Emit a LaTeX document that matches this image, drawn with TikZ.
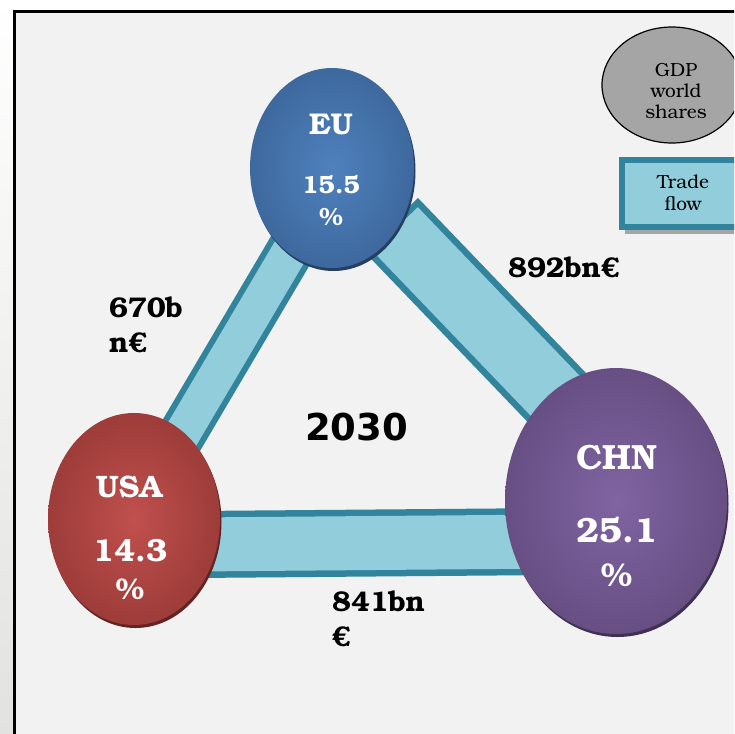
\documentclass[tikz,border=0pt]{standalone}
\usepackage{fontspec}
\setmainfont{texgyrebonum}[Extension=.otf, UprightFont=*-regular, BoldFont=*-bold, ItalicFont=*-italic, BoldItalicFont=*-bolditalic]
\newfontfamily\numfont{DejaVu Sans}
\usetikzlibrary{shapes.geometric}
\definecolor{panel}{HTML}{F2F2F2}
\definecolor{stripbot}{HTML}{E2E2DE}
\definecolor{bandedge}{HTML}{31849B}
\definecolor{bandfill}{HTML}{92CDDC}
\definecolor{eulight}{HTML}{4F81BD}
\definecolor{eudark}{HTML}{345C8D}
\definecolor{eushadow}{HTML}{243F62}
\definecolor{usalight}{HTML}{C0504D}
\definecolor{usadark}{HTML}{8B3230}
\definecolor{usashadow}{HTML}{632523}
\definecolor{chnlight}{HTML}{8064A2}
\definecolor{chndark}{HTML}{5A4474}
\definecolor{chnshadow}{HTML}{3F3151}
\definecolor{gdpgray}{HTML}{A5A5A5}
\definecolor{boxshadow}{HTML}{A6A6A6}
\pgfdeclareradialshading{eushade}{\pgfpoint{0bp}{0bp}}{color(0bp)=(eulight); color(38bp)=(eudark); color(50bp)=(eudark)}
\pgfdeclareradialshading{usashade}{\pgfpoint{0bp}{0bp}}{color(0bp)=(usalight); color(38bp)=(usadark); color(50bp)=(usadark)}
\pgfdeclareradialshading{chnshade}{\pgfpoint{0bp}{0bp}}{color(0bp)=(chnlight); color(38bp)=(chndark); color(50bp)=(chndark)}
\begin{document}
\begin{tikzpicture}[x=1pt,y=-1pt,
  wtxt/.style={text=white, inner sep=0},
  btxt/.style={text=black, inner sep=0},
  bandout/.style={draw=bandedge, line cap=butt},
  bandin/.style={draw=bandfill, line cap=butt},
  ball/.style={ellipse, inner sep=0},
  fs/.style={font=\bfseries\fontsize{#1}{#1}\selectfont}
]
\useasboundingbox (0,0) rectangle (734,734);
\clip (0,0) rectangle (734,734);
% background
\fill[white] (0,0) rectangle (734,734);
\shade[top color=white, bottom color=stripbot] (0,0) rectangle (14,734);
\filldraw[fill=panel, draw=black, line width=2.5] (14.5,11.7) rectangle (780,780);
% band end points
\coordinate (b1a) at (132,519);
\coordinate (b1b) at (335,175);
\coordinate (b2a) at (134,545);
\coordinate (b2b) at (616,541);
\coordinate (b3a) at (390.6,224.3);
\coordinate (b3b) at (612,455);
% bands
\draw[bandout, line width=48] (b1a) -- (b1b);
\draw[bandin, line width=36, shorten <=6, shorten >=6] (b1a) -- (b1b);
\draw[bandout, line width=67] (b2a) -- (b2b);
\draw[bandin, line width=54, shorten <=6.5, shorten >=6.5] (b2a) -- (b2b);
\draw[bandout, line width=76] (b3a) -- (b3b);
\draw[bandin, line width=63, shorten <=6.5, shorten >=6.5] (b3a) -- (b3b);
% ellipse shadows
\fill[eushadow] (333.5,171) ellipse [x radius=82, y radius=100];
\fill[usashadow] (135.5,522) ellipse [x radius=86, y radius=106];
\fill[chnshadow] (617.5,504) ellipse [x radius=111, y radius=133];
% ellipses
\node[ball, minimum width=164, minimum height=200, shading=eushade] (eu) at (332,168) {};
\node[ball, minimum width=172, minimum height=212, shading=usashade] (usa) at (134,519) {};
\node[ball, minimum width=222, minimum height=266, shading=chnshade] (chn) at (616,501) {};
% ellipse texts
\node[wtxt, fs=30] (eut1) at (331,124) {EU};
\node[wtxt, fs=25] (eut2) at (331,185) {15.5};
\node[wtxt, fs=25] (eut3) at (331,217) {\%};
\node[wtxt, fs=31] (usat1) at (129,487) {USA};
\node[wtxt, fs=32] (usat2) at (130,551) {14.3};
\node[wtxt, fs=30] (usat3) at (130,589) {\%};
\node[wtxt, fs=35] (chnt1) at (617,458) {CHN};
\node[wtxt, fs=35] (chnt2) at (617,530) {25.1};
\node[wtxt, fs=33] (chnt3) at (617,575) {\%};
% trade labels
\node[btxt, fs=28.5, anchor=west] (l670a) at (109,307) {670b};
\node[btxt, fs=28.5, anchor=west] (l670b) at (109,343) {n€};
\node[btxt, fs=28.5, anchor=west] (l892) at (508,267.5) {892bn€};
\node[btxt, fs=28.5, anchor=west] (l841a) at (332,601) {841bn};
\node[btxt, fs=28.5, anchor=west] (l841b) at (332,637) {€};
\node[btxt, font=\numfont\bfseries\fontsize{37}{37}\selectfont] (year) at (356.5,427) {2030};
% legend
\node[ball, fill=gdpgray, draw=black, line width=1.2, minimum width=140, minimum height=116] (gdp) at (672,85) {};
\node[btxt, align=center, font=\fontsize{19}{21}\selectfont] (gdpt) at (676,91) {GDP\\world\\shares};
\fill[boxshadow] (625,164) rectangle (760,234);
\filldraw[fill=bandfill, draw=bandedge, line width=6.5] (622,160) rectangle (750,227);
\node[btxt, align=center, font=\fontsize{19}{22}\selectfont] (tradet) at (683,193) {Trade\\flow};
\end{tikzpicture}
\end{document}
